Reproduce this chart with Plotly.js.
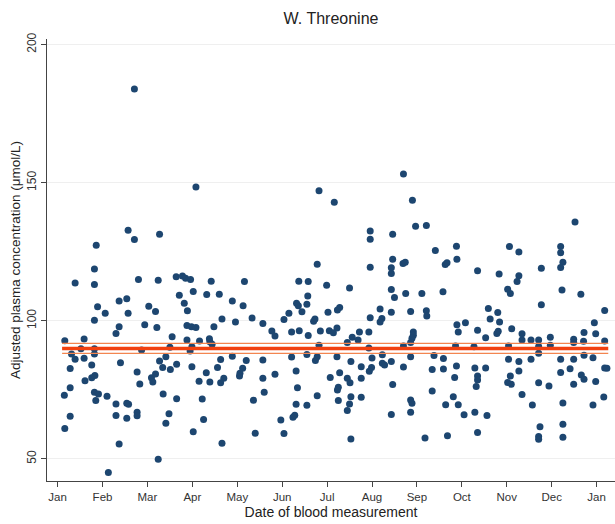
<!DOCTYPE html>
<html>
<head>
<meta charset="utf-8">
<script src="https://cdn.plot.ly/plotly-3.0.1.min.js"></script>
<style>html,body{margin:0;padding:0;background:#fff;}#chart{width:615px;height:524px;}</style>
</head>
<body>
<div id="chart"></div>
<script>
// Month position (1 = Jan, 13 = next Jan) of each blood measurement
const months = [
2.71,2.57,2.71,3.27,1.86,
1.82,1.39,1.82,2.80,3.24,3.64,3.78,3.85,3.96,4.02,3.71,3.82,3.89,1.89,2.06,2.37,2.54,2.57,1.82,3.03,3.18,2.94,3.21,2.37,2.30,3.88,3.98,
1.16,1.59,3.55,3.88,1.52,1.82,1.82,1.31,1.39,1.59,2.87,3.50,3.95,3.99,1.28,1.76,2.40,3.27,3.41,3.34,3.51,3.65,1.61,1.76,1.83,2.77,2.83,
3.09,3.12,3.18,1.28,1.15,1.82,1.91,1.85,2.10,3.35,3.65,2.30,2.54,2.58,2.30,2.54,2.77,2.77,3.48,3.41,1.28,1.16,2.37,3.24,2.13,
4.08,6.82,7.16,
4.42,4.32,4.60,5.16,4.89,5.13,6.37,6.58,6.99,6.32,6.36,6.55,6.57,6.44,6.15,7.02,6.78,4.66,4.96,5.33,5.57,6.04,6.73,6.70,4.08,4.48,
5.77,5.84,6.21,6.38,6.58,6.85,7.05,4.16,4.38,4.39,4.44,6.82,4.63,4.89,5.20,5.57,6.21,6.55,6.78,6.74,3.99,4.31,4.15,4.39,4.56,4.70,
4.63,5.06,5.12,5.05,5.57,5.84,6.31,4.22,5.60,5.36,6.34,6.78,6.31,6.55,4.25,5.97,6.24,6.28,4.02,5.40,6.04,4.66,
8.70,8.90,7.96,7.96,8.46,8.97,9.21,9.41,9.88,
8.46,7.96,8.43,8.43,8.69,8.74,9.63,9.67,9.89,7.50,8.43,8.50,8.75,9.11,9.58,7.28,7.23,8.18,8.22,8.18,7.96,8.43,8.86,9.21,9.22,
7.22,7.14,7.56,7.72,7.69,7.93,7.45,8.92,8.92,8.89,8.86,9.89,9.92,10.08,7.93,8.70,9.86,7.22,8.00,8.23,8.23,8.28,8.43,8.86,9.38,9.59,
7.53,7.76,7.99,7.94,8.70,9.34,9.59,9.88,7.28,7.45,7.51,7.76,7.25,7.23,7.07,8.46,9.84,7.25,7.53,7.76,7.50,7.45,8.86,8.89,8.86,9.34,
9.81,9.64,9.92,10.05,8.43,7.53,9.18,9.68,
12.52,11.06,11.27,12.20,12.20,
12.25,12.20,10.35,10.83,11.27,11.23,11.77,11.02,11.08,12.23,12.65,11.77,10.59,10.80,13.18,10.63,10.84,12.95,10.35,10.53,10.78,10.81,
11.11,11.34,11.34,11.54,11.71,11.97,12.72,12.98,12.49,12.49,12.71,13.18,10.27,11.04,11.71,11.97,11.71,12.72,12.92,11.04,11.27,11.54,
12.20,12.49,10.29,10.53,11.27,12.20,12.41,13.18,13.23,10.35,10.35,11.08,12.66,12.72,10.32,11.02,11.10,11.71,11.94,12.49,12.98,11.34,
11.57,12.25,12.92,13.16,10.29,10.56,11.74,12.25,10.35,11.71,11.71,12.25
];
// Adjusted plasma threonine concentration (umol/L)
const values = [
183.9,132.8,129.4,131.3,127.3,
118.7,113.7,113.1,114.9,114.7,115.9,116.2,115.4,114.9,110.6,109.2,106.3,103.6,105.1,102.7,107.2,108.0,102.7,100.2,105.3,103.4,98.6,97.6,97.8,95.4,98.3,97.8,
92.8,93.4,94.2,93.0,89.9,89.9,88.0,88.0,86.1,86.4,89.4,90.4,89.1,90.6,82.7,84.0,84.8,85.4,87.0,83.1,82.4,84.3,78.3,79.4,80.2,81.5,77.1,
79.4,77.8,80.7,75.8,73.0,74.1,73.5,71.1,72.7,73.5,71.8,69.9,70.1,69.8,65.7,64.7,66.9,65.6,66.3,62.9,65.4,61.0,55.4,49.9,45.1,
148.4,147.1,142.9,
114.3,109.5,109.6,114.2,107.2,105.4,114.3,114.2,112.9,106.3,105.4,106.0,109.0,103.3,102.7,103.1,120.5,100.6,99.6,101.0,99.0,100.5,100.6,99.8,97.6,97.8,
96.3,94.5,95.9,96.4,94.7,96.3,96.4,92.7,93.5,92.4,91.5,91.1,86.0,87.2,85.6,85.8,86.9,87.8,87.0,85.6,83.4,81.2,78.1,77.8,83.1,79.2,
77.6,81.0,82.8,80.0,79.2,80.6,81.8,71.7,74.1,71.2,75.8,72.9,69.8,69.4,64.3,64.1,65.1,65.8,59.8,59.3,59.2,55.7,
153.1,143.6,132.5,129.5,131.3,134.2,134.5,125.4,127.0,
122.3,119.4,119.2,117.1,120.7,121.2,120.4,121.0,122.3,111.9,111.3,108.4,109.9,109.9,110.5,104.8,103.9,104.3,100.8,99.6,101.1,103.1,103.4,103.6,101.7,
97.4,95.7,94.0,95.9,93.0,95.9,92.1,95.9,94.8,93.7,92.1,98.6,95.9,99.3,90.1,90.9,90.9,87.0,86.5,87.7,84.6,84.0,85.3,87.0,87.4,86.3,
85.3,83.4,83.1,81.7,83.3,82.4,82.5,83.6,81.2,79.2,77.6,79.2,75.9,74.9,79.5,76.9,79.5,71.1,72.5,72.3,69.9,67.5,71.3,70.1,66.9,74.6,
72.5,69.6,69.6,66.0,66.1,57.2,57.6,58.4,
135.8,126.9,124.9,126.9,124.6,
121.2,119.3,118.1,116.9,116.3,114.2,119.0,111.4,109.9,111.1,109.6,105.8,104.4,103.0,103.7,100.6,99.6,99.3,96.6,93.9,95.4,96.2,
97.1,95.3,93.0,93.0,93.0,94.0,95.8,95.3,93.3,92.1,92.6,92.7,90.6,90.9,90.7,91.1,88.2,87.5,86.6,86.1,85.3,86.1,
86.1,86.1,82.9,82.9,81.8,81.3,82.6,82.9,82.8,80.0,78.6,80.0,80.4,78.8,76.2,77.7,77.0,77.6,76.4,77.0,78.0,73.3,
69.5,70.2,69.5,72.4,66.9,65.7,61.6,62.5,59.6,58.1,57.1,57.8
];
// Fitted mean and its confidence band
const fitSpan = [1.1, 13.26];
const fitMean = 90.0;
const fitLower = 88.2;
const fitUpper = 91.8;
// Axis ticks
const monthTicks = [1,2,3,4,5,6,7,8,9,10,11,12,13];
const monthLabels = ['Jan','Feb','Mar','Apr','May','Jun','Jul','Aug','Sep','Oct','Nov','Dec','Jan'];
const yTicks = [50,100,150,200];

const traces = [
  {x: months, y: values, type: 'scatter', mode: 'markers',
   marker: {color: '#1d4670', size: 7}, hoverinfo: 'skip'},
  {x: fitSpan, y: [fitLower, fitLower], type: 'scatter', mode: 'lines',
   line: {color: '#f3854f', width: 1.2}, hoverinfo: 'skip'},
  {x: fitSpan, y: [fitUpper, fitUpper], type: 'scatter', mode: 'lines',
   line: {color: '#f3854f', width: 1.2}, hoverinfo: 'skip'},
  {x: fitSpan, y: [fitMean, fitMean], type: 'scatter', mode: 'lines',
   line: {color: '#f2400f', width: 3.5}, hoverinfo: 'skip'}
];

const font = {family: 'Liberation Sans, Arial, sans-serif', color: '#222'};
const layout = {
  width: 615, height: 524,
  margin: {l: 47, r: 0, t: 39, b: 43},
  paper_bgcolor: '#fff', plot_bgcolor: '#fff',
  showlegend: false,
  font: Object.assign({size: 12}, font),
  title: {text: 'W. Threonine', x: 0.5, xref: 'paper', y: 0.975, yref: 'container',
          font: Object.assign({}, font, {size: 16})},
  xaxis: {range: [0.764, 13.41], tickvals: monthTicks, ticktext: monthLabels,
          showgrid: false, zeroline: false, showline: true, linecolor: '#444', linewidth: 1,
          ticks: 'outside', ticklen: 5, tickcolor: '#444',
          tickfont: Object.assign({}, font, {size: 11.5, color: '#333'}),
          title: {text: 'Date of blood measurement', standoff: 5,
                  font: Object.assign({}, font, {size: 14})}},
  yaxis: {range: [42, 202], tickvals: yTicks, tickangle: -90,
          showgrid: true, gridcolor: '#efefef', zeroline: false,
          showline: true, linecolor: '#444', linewidth: 1,
          ticks: 'outside', ticklen: 5, tickcolor: '#444',
          tickfont: Object.assign({}, font, {size: 12, color: '#333'}),
          title: {text: 'Adjusted plasma concentration (μmol/L)', standoff: 1,
                  font: Object.assign({}, font, {size: 13.5})}}
};
Plotly.newPlot('chart', traces, layout, {displayModeBar: false, staticPlot: true});
</script>
</body>
</html>
